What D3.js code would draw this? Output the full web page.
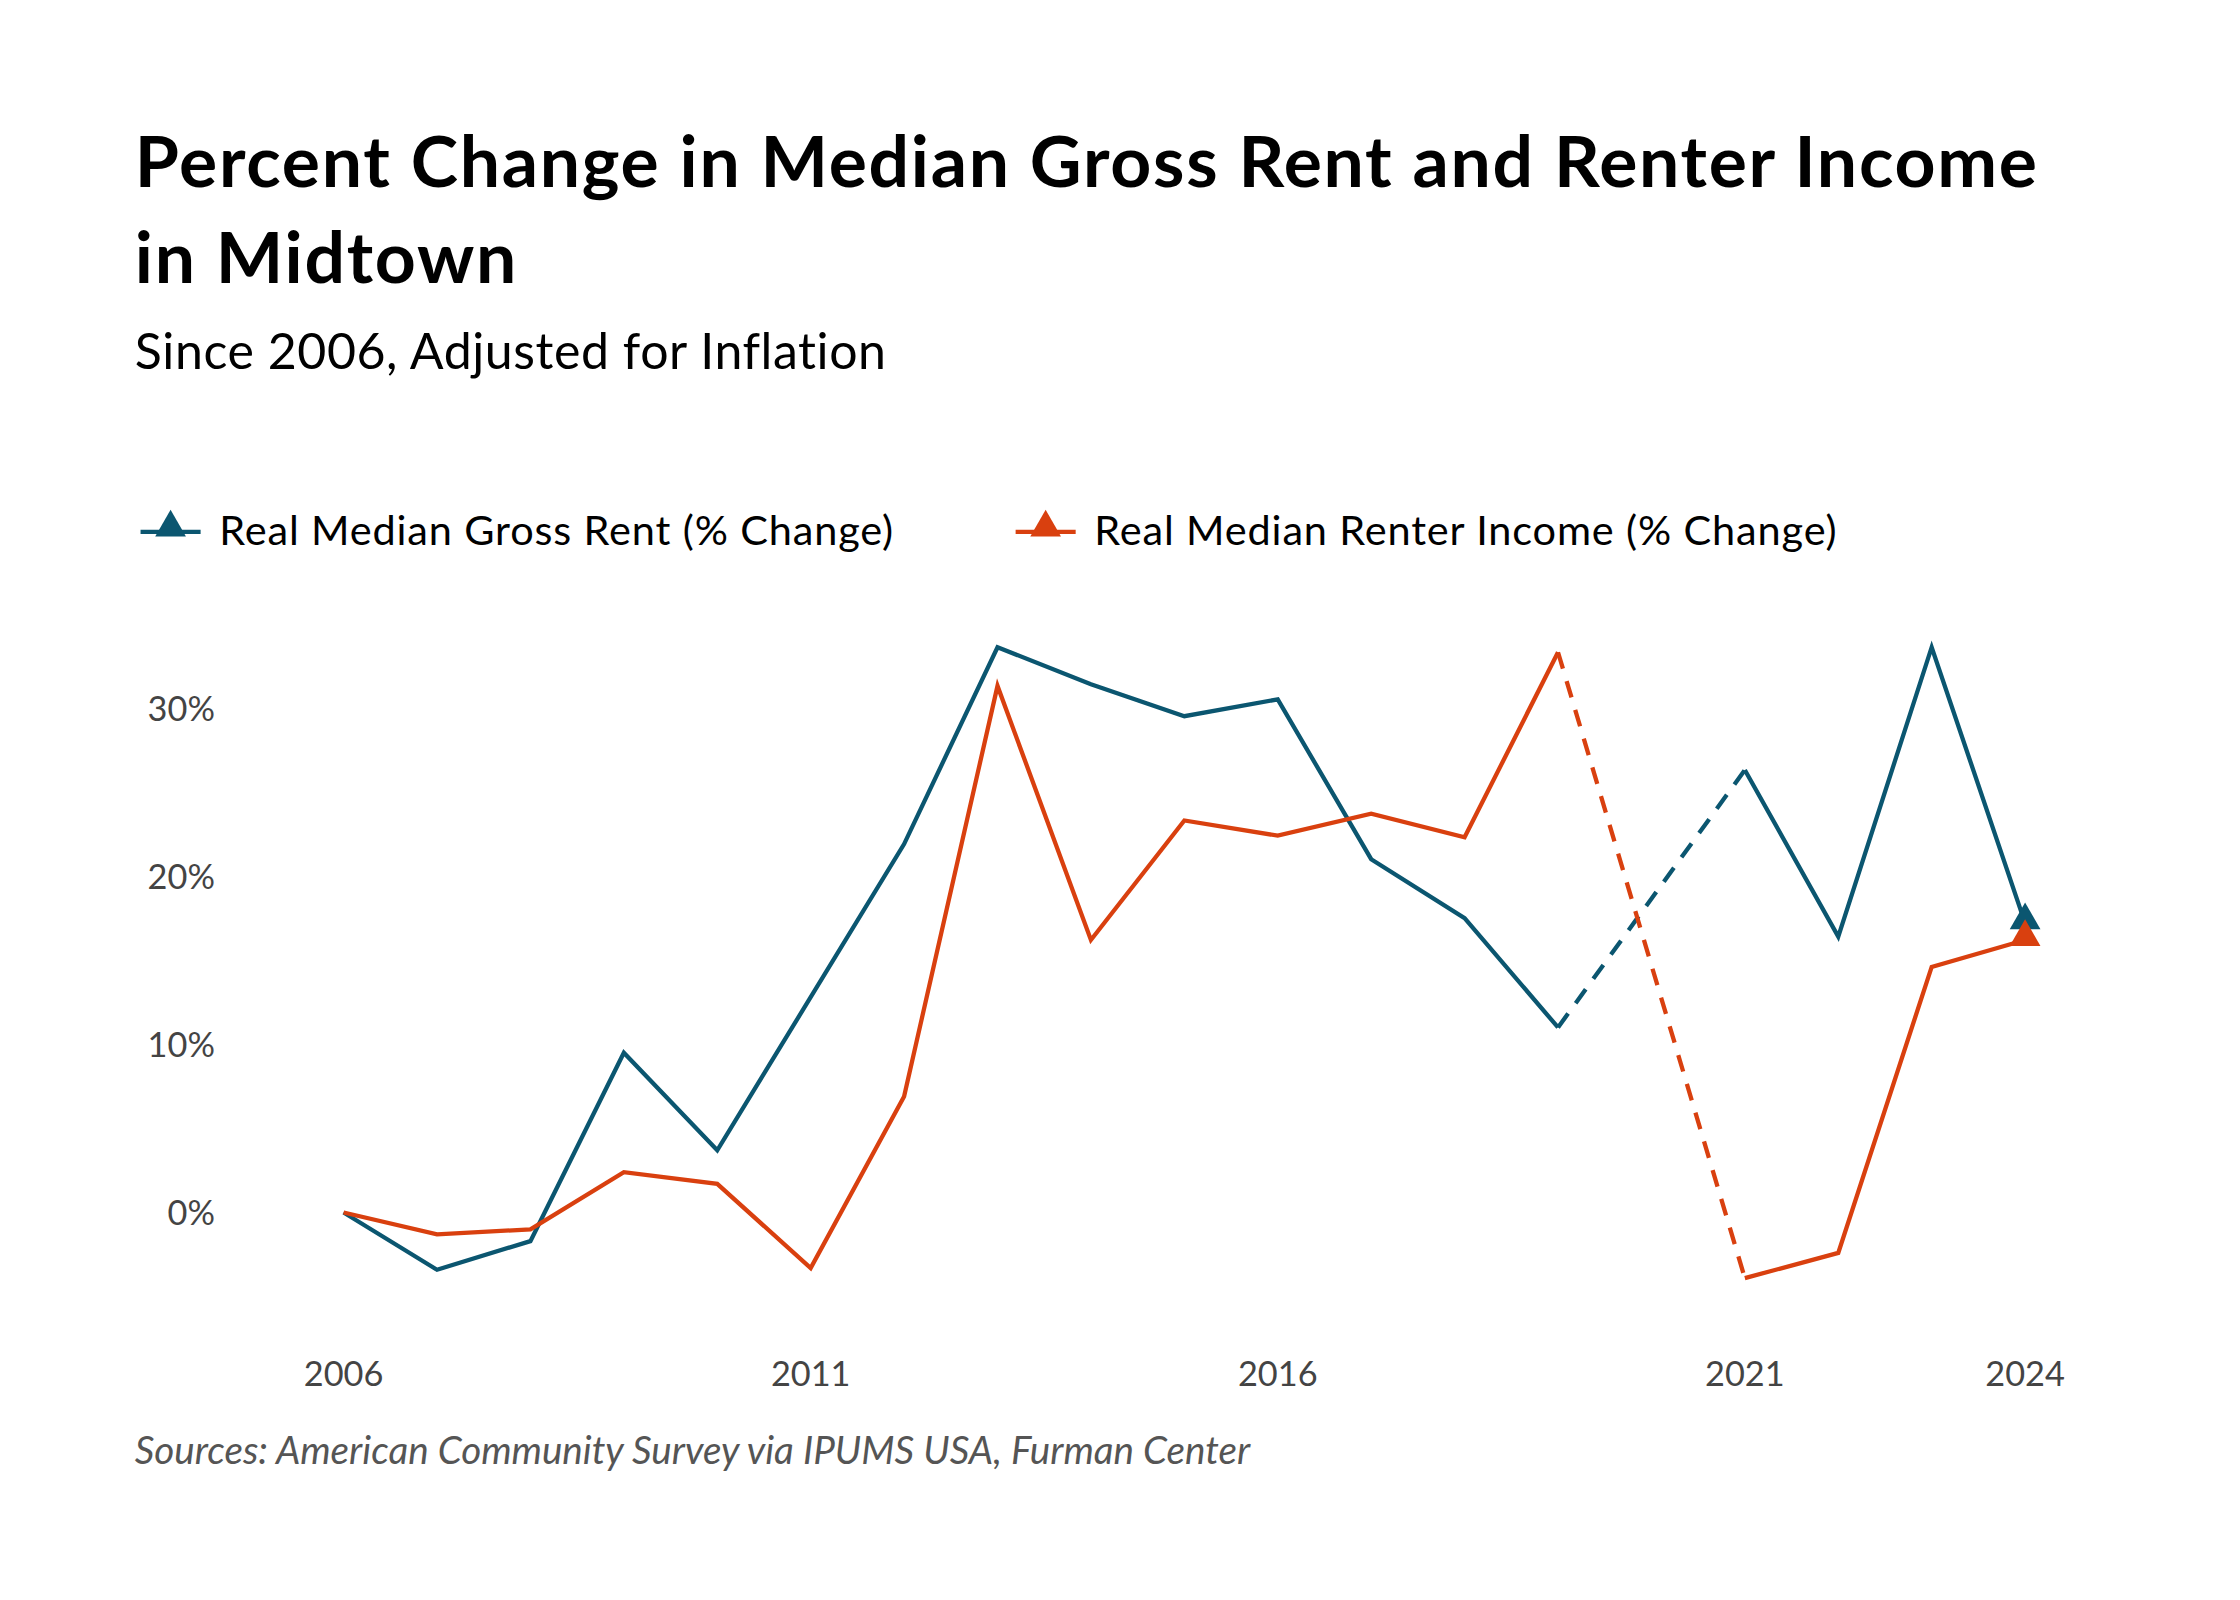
<!DOCTYPE html><html><head><meta charset="utf-8"><script src="https://cdn.jsdelivr.net/npm/d3@7"></script>
<style>body{margin:0;background:#fff}</style></head><body><svg id="c" width="2240" height="1600"></svg>
<script>
const years=[2006,2007,2008,2009,2010,2011,2012,2013,2014,2015,2016,2017,2018,2019,2021,2022,2023,2024];
const rent=[0,-3.4,-1.7,9.5,3.7,12.8,21.9,33.6,31.4,29.5,30.5,21.0,17.5,11.0,26.3,16.4,33.6,17.2];
const income=[0,-1.3,-1.0,2.4,1.7,-3.3,6.9,31.3,16.2,23.3,22.4,23.7,22.3,33.3,-3.9,-2.4,14.6,16.2];
const yTicks=[0,10,20,30];
const xTicks=[2006,2011,2016,2021,2024];
const series=[{name:"Real Median Gross Rent (% Change)",vals:rent,color:"#0b5670"},{name:"Real Median Renter Income (% Change)",vals:income,color:"#d9400f"}];
const svg=d3.select("#c").attr("viewBox","0 0 1566 1119");
const F="Lato, 'Open Sans', sans-serif";
const x=d3.scaleLinear().domain([2006,2024]).range([240,1416]);
const y=d3.scaleLinear().domain([0,30]).range([848,495]);
svg.append("text").attr("x",94).attr("y",131).attr("font-family",F).attr("font-weight",700).attr("font-size",50).attr("letter-spacing",1.2).text("Percent Change in Median Gross Rent and Renter Income");
svg.append("text").attr("x",94).attr("y",198).attr("font-family",F).attr("font-weight",700).attr("font-size",50).attr("letter-spacing",1.2).text("in Midtown");
svg.append("text").attr("x",94).attr("y",258).attr("font-family",F).attr("font-size",35).attr("letter-spacing",0.4).text("Since 2006, Adjusted for Inflation");
svg.append("text").attr("x",94).attr("y",1024).attr("font-family",F).attr("font-style","italic").attr("font-size",27).attr("fill","#555").text("Sources: American Community Survey via IPUMS USA, Furman Center");
yTicks.forEach(t=>svg.append("text").attr("x",150).attr("y",y(t)+9).attr("text-anchor","end").attr("font-family",F).attr("font-size",24).attr("fill","#444").text(t+"%"));
xTicks.forEach(t=>svg.append("text").attr("x",x(t)).attr("y",969).attr("text-anchor","middle").attr("font-family",F).attr("font-size",24).attr("fill","#444").text(t));
const line=d3.line().x(d=>x(d[0])).y(d=>y(d[1]));
const tri=d3.symbol().type(d3.symbolTriangle).size(200);
series.forEach((s,i)=>{
  const pts=years.map((yr,j)=>[yr,s.vals[j]]);
  const a=pts.slice(0,14),b=pts.slice(13,15),c=pts.slice(14);
  svg.append("path").attr("d",line(a)).attr("fill","none").attr("stroke",s.color).attr("stroke-width",3);
  svg.append("path").attr("d",line(b)).attr("fill","none").attr("stroke",s.color).attr("stroke-width",3).attr("stroke-dasharray","12,9");
  svg.append("path").attr("d",line(c)).attr("fill","none").attr("stroke",s.color).attr("stroke-width",3);
  const l=pts[pts.length-1];
  svg.append("path").attr("d",tri).attr("transform",`translate(${x(l[0])},${y(l[1])-2})`).attr("fill",s.color);
  const lx=[98,710][i];
  svg.append("line").attr("x1",lx).attr("x2",lx+42).attr("y1",372).attr("y2",372).attr("stroke",s.color).attr("stroke-width",3);
  svg.append("path").attr("d",tri).attr("transform",`translate(${lx+21},${369})`).attr("fill",s.color);
  svg.append("text").attr("x",lx+55).attr("y",381).attr("font-family",F).attr("font-size",29).attr("letter-spacing",0.6).text(s.name);
});
</script></body></html>
